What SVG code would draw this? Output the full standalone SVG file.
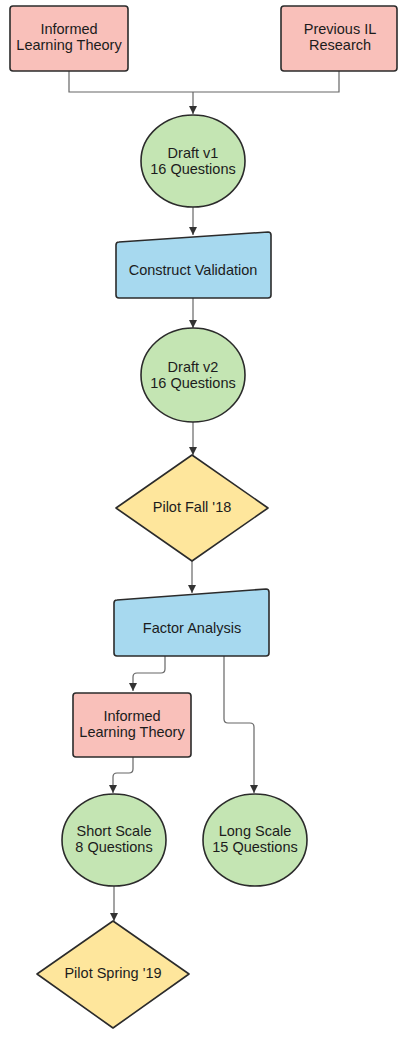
<svg xmlns="http://www.w3.org/2000/svg" width="408" height="1040" viewBox="0 0 408 1040">
<defs>
<marker id="ah" viewBox="0 0 10 10" refX="10" refY="5" markerWidth="8" markerHeight="10" markerUnits="userSpaceOnUse" orient="auto">
<path d="M0,0 L10,5 L0,10 Z" fill="#333"/>
</marker>
</defs>
<style>
text{font-family:"Liberation Sans",Arial,sans-serif;font-size:14.5px;fill:#1c1c1c;text-anchor:middle;dominant-baseline:central}
.pink{fill:#F9C0BA;stroke:#2b2b2b;stroke-width:1.6}
.green{fill:#C4E5B3;stroke:#2b2b2b;stroke-width:1.6}
.blue{fill:#A7D9EF;stroke:#2b2b2b;stroke-width:1.6}
.yellow{fill:#FEE69C;stroke:#2b2b2b;stroke-width:1.6}
.c{fill:none;stroke:#666;stroke-width:1.2}
</style>
<rect width="408" height="1040" fill="#fff"/>
<g id="connectors">
<path class="c" d="M69,71 V92 H193"/>
<path class="c" d="M339,71 V92 H193" stroke="#444" stroke-width="1.8"/>
<path class="c" d="M193,92 V114" stroke="#444" stroke-width="1.8" marker-end="url(#ah)"/>
<path class="c" d="M193,207 V235" marker-end="url(#ah)"/>
<path class="c" d="M193,298 V328" marker-end="url(#ah)"/>
<path class="c" d="M193,422 V455" marker-end="url(#ah)"/>
<path class="c" d="M192,561 V593" marker-end="url(#ah)"/>
<path class="c" d="M165,656 V669 Q165,673 161,673 H137 Q133,673 133,677 V691" marker-end="url(#ah)"/>
<path class="c" d="M224,656 V719 Q224,723 228,723 H250 Q254,723 254,727 V793" marker-end="url(#ah)"/>
<path class="c" d="M133,757 V769 Q133,773 129,773 H117 Q113,773 113,777 V793" marker-end="url(#ah)"/>
<path class="c" d="M114,886 V921" marker-end="url(#ah)"/>
</g>
<g id="n1">
<rect class="pink" x="10" y="6" width="118" height="65" rx="3"/>
<text x="69" y="29">Informed</text>
<text x="69" y="45">Learning Theory</text>
</g>
<g id="n2">
<rect class="pink" x="281" y="6" width="116" height="65" rx="3"/>
<text x="340" y="29">Previous IL</text>
<text x="340" y="45">Research</text>
</g>
<g id="n3">
<ellipse class="green" cx="193" cy="161" rx="52" ry="46"/>
<text x="193" y="153">Draft v1</text>
<text x="193" y="169">16 Questions</text>
</g>
<g id="n4">
<path class="blue" d="M119,242 L268,232 Q271,232 271,235 V295 Q271,298 268,298 H119 Q116,298 116,295 V245 Q116,242 119,242 Z"/>
<text x="193" y="270">Construct Validation</text>
</g>
<g id="n5">
<ellipse class="green" cx="193" cy="375" rx="52" ry="47"/>
<text x="193" y="367">Draft v2</text>
<text x="193" y="383">16 Questions</text>
</g>
<g id="n6">
<path class="yellow" d="M192,455 L268,508 L192,561 L116,508 Z" stroke-linejoin="round"/>
<text x="192" y="507">Pilot Fall '18</text>
</g>
<g id="n7">
<path class="blue" d="M117,600 L266,589 Q269,589 269,592 V653 Q269,656 266,656 H117 Q114,656 114,653 V603 Q114,600 117,600 Z"/>
<text x="192" y="628">Factor Analysis</text>
</g>
<g id="n8">
<rect class="pink" x="73" y="693" width="118" height="64" rx="3"/>
<text x="132" y="716">Informed</text>
<text x="132" y="732">Learning Theory</text>
</g>
<g id="n9">
<ellipse class="green" cx="114" cy="840" rx="52" ry="46"/>
<text x="114" y="831">Short Scale</text>
<text x="114" y="847">8 Questions</text>
</g>
<g id="n10">
<ellipse class="green" cx="255" cy="840" rx="52" ry="46"/>
<text x="255" y="831">Long Scale</text>
<text x="255" y="847">15 Questions</text>
</g>
<g id="n11">
<path class="yellow" d="M113,921 L189,974 L113,1028 L37,974 Z" stroke-linejoin="round"/>
<text x="113" y="973">Pilot Spring '19</text>
</g>
</svg>
